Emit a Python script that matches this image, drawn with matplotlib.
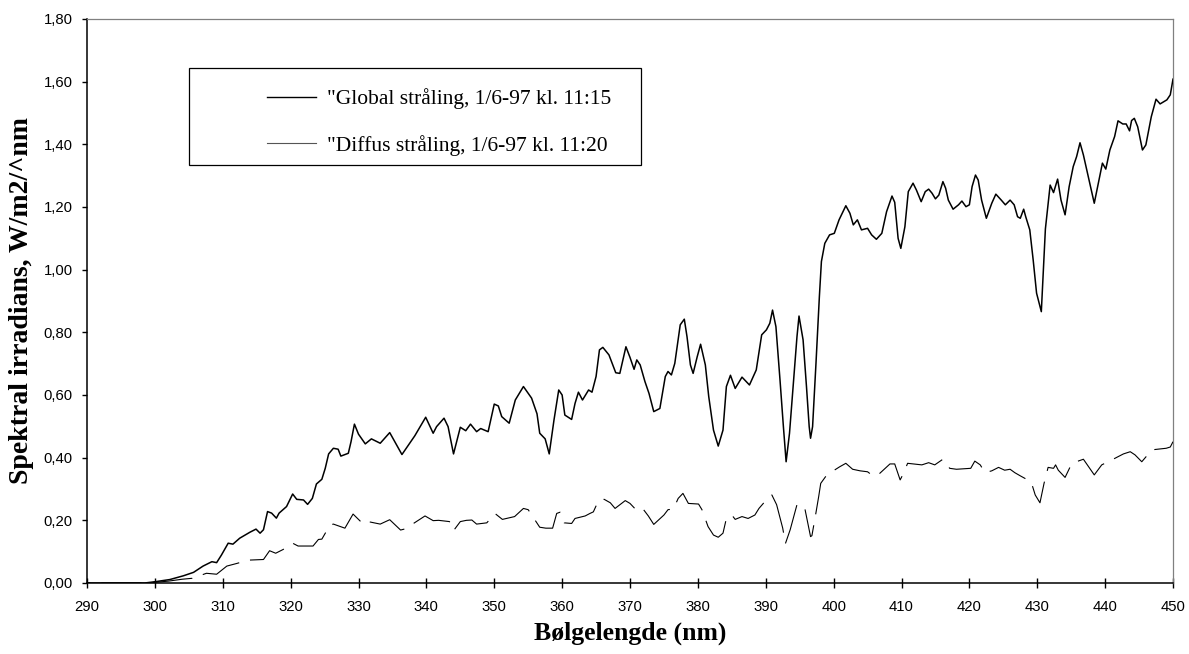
import matplotlib
matplotlib.use("Agg")
import matplotlib.pyplot as plt
from matplotlib.lines import Line2D
from matplotlib.patches import Rectangle

# Global irradiance spectrum (nm, W/m2/nm)
global_nm = [290, 295, 298.5, 300.0, 302.2, 304.2, 305.7, 307.1, 308.4, 309.1,
             309.8, 310.8, 311.5, 312.5, 314.0, 314.9, 315.5, 316.0, 316.6, 317.2,
             317.9, 318.3, 319.4, 320.3, 320.9, 321.9, 322.5, 323.2, 323.8, 324.6,
             325.1, 325.6, 326.3, 327.0, 327.4, 328.5, 328.9, 329.4, 330.0, 331.0,
             331.9, 333.2, 334.6, 336.4, 338.3, 339.9, 341.0, 341.5, 342.6, 343.2,
             344.0, 345.0, 345.8, 346.5, 347.4, 348.0, 349.1, 350.0, 350.6, 351.1,
             352.2, 353.1, 354.3, 355.5, 356.3, 356.7, 357.5, 358.1, 358.8, 359.5,
             360.0, 360.4, 361.4, 361.9, 362.4, 363.0, 363.9, 364.4, 365.0, 365.5,
             366.0, 366.9, 367.9, 368.5, 369.4, 370.0, 370.6, 371.0, 371.5, 372.2,
             372.8, 373.5, 374.4, 375.2, 375.6, 376.1, 376.6, 377.4, 378.0, 378.4,
             378.9, 379.3, 379.9, 380.4, 381.1, 381.6, 382.3, 383.0, 383.7, 384.2,
             384.8, 385.5, 386.5, 387.6, 388.6, 389.4, 390.1, 390.6, 391.0, 391.5,
             392.1, 392.6, 393.0, 393.5, 394.1, 394.6, 394.9, 395.5, 396.0, 396.4,
             396.6, 396.9, 397.4, 397.9, 398.2, 398.7, 399.4, 400.1, 400.8, 401.8,
             402.4, 402.9, 403.5, 404.1, 405.0, 405.6, 406.3, 407.1, 407.8, 408.6,
             409.0, 409.5, 409.9, 410.5, 411.0, 411.7, 412.2, 412.9, 413.5, 414.0,
             414.5, 415.0, 415.5, 416.1, 416.5, 416.9, 417.6, 418.4, 418.9, 419.5,
             420.0, 420.4, 420.9, 421.3, 421.8, 422.5, 423.3, 423.9, 424.7, 425.3,
             426.0, 426.6, 427.1, 427.5, 428.0, 428.3, 428.9, 429.4, 429.9, 430.6,
             431.2, 431.9, 432.4, 433.0, 433.5, 434.1, 434.7, 435.3, 435.8, 436.3,
             436.8, 437.3, 437.8, 438.4, 438.9, 439.6, 440.1, 440.7, 441.4, 441.9,
             442.6, 443.1, 443.6, 443.9, 444.3, 444.8, 445.5, 446.0, 446.8, 447.5,
             448.1, 449.1, 449.6, 450.0]
global_val = [0.0, 0.0, 0.0, 0.004, 0.011, 0.023, 0.034, 0.054, 0.068, 0.065,
              0.089, 0.127, 0.124, 0.143, 0.162, 0.172, 0.159, 0.170, 0.228, 0.223,
              0.207, 0.223, 0.244, 0.284, 0.267, 0.265, 0.251, 0.270, 0.316, 0.331,
              0.366, 0.412, 0.430, 0.427, 0.405, 0.414, 0.451, 0.507, 0.475, 0.444,
              0.460, 0.446, 0.480, 0.410, 0.470, 0.529, 0.478, 0.499, 0.526, 0.499,
              0.412, 0.497, 0.486, 0.507, 0.483, 0.493, 0.483, 0.571, 0.565, 0.531,
              0.510, 0.584, 0.627, 0.590, 0.540, 0.478, 0.460, 0.412, 0.520, 0.616,
              0.600, 0.536, 0.522, 0.573, 0.609, 0.584, 0.616, 0.609, 0.659, 0.744,
              0.752, 0.728, 0.671, 0.669, 0.754, 0.720, 0.682, 0.712, 0.696, 0.643,
              0.605, 0.547, 0.557, 0.659, 0.675, 0.664, 0.701, 0.824, 0.842, 0.786,
              0.696, 0.669, 0.722, 0.762, 0.696, 0.595, 0.488, 0.437, 0.488, 0.627,
              0.663, 0.621, 0.657, 0.632, 0.680, 0.792, 0.808, 0.829, 0.871, 0.818,
              0.648, 0.499, 0.387, 0.478, 0.648, 0.786, 0.852, 0.776, 0.627, 0.499,
              0.462, 0.499, 0.701, 0.914, 1.026, 1.084, 1.111, 1.116, 1.159, 1.204,
              1.180, 1.143, 1.159, 1.127, 1.132, 1.111, 1.097, 1.116, 1.185, 1.235,
              1.215, 1.100, 1.068, 1.137, 1.249, 1.276, 1.254, 1.217, 1.249, 1.257,
              1.244, 1.226, 1.238, 1.281, 1.260, 1.222, 1.193, 1.207, 1.219, 1.201,
              1.207, 1.265, 1.302, 1.286, 1.222, 1.164, 1.212, 1.241, 1.222, 1.207,
              1.222, 1.207, 1.169, 1.164, 1.193, 1.169, 1.127, 1.031, 0.925, 0.866,
              1.130, 1.270, 1.246, 1.289, 1.222, 1.175, 1.265, 1.329, 1.361, 1.405,
              1.366, 1.318, 1.270, 1.212, 1.265, 1.340, 1.321, 1.382, 1.425, 1.475,
              1.465, 1.465, 1.443, 1.476, 1.483, 1.456, 1.382, 1.398, 1.488, 1.544,
              1.529, 1.542, 1.558, 1.608]

# Diffuse irradiance spectrum (nm, W/m2/nm)
diffus_nm = [290, 298, 300.0, 302.0, 304.0, 305.5, 307.6, 309.1, 310.6, 312.0,
             313.8, 316.0, 316.9, 317.8, 318.9, 320.3, 321.1, 323.3, 324.1, 324.6,
             325.8, 326.3, 328.0, 329.2, 330.7, 331.4, 333.2, 334.6, 336.2, 337.1,
             338.1, 339.8, 341.0, 341.8, 343.4, 344.0, 345.0, 345.9, 346.7, 347.4,
             348.9, 350.1, 351.2, 353.0, 354.3, 355.0, 356.0, 356.7, 357.6, 358.6,
             359.2, 359.7, 360.3, 361.4, 361.9, 363.4, 364.1, 364.6, 365.4, 366.2,
             367.1, 367.8, 369.3, 370.0, 370.7, 371.2, 372.0, 372.7, 373.5, 375.0,
             375.6, 376.4, 377.1, 377.8, 378.6, 380.1, 380.6, 381.5, 382.3, 383.0,
             383.7, 384.2, 385.0, 385.5, 386.5, 387.4, 388.4, 389.0, 390.0, 390.9,
             391.6, 392.5, 392.9, 393.6, 394.6, 395.7, 396.3, 396.6, 396.8, 397.3,
             397.8, 398.1, 399.0, 400.9, 401.8, 402.8, 403.9, 405.0, 405.6, 406.4,
             408.3, 409.0, 409.8, 410.3, 410.9, 413.0, 414.0, 414.9, 416.1, 417.1,
             418.1, 420.2, 420.8, 421.6, 422.3, 423.3, 424.3, 425.2, 426.0, 426.7,
             427.5, 429.1, 429.7, 430.4, 431.0, 431.6, 432.4, 432.7, 433.1, 434.1,
             435.1, 436.8, 438.4, 439.5, 441.0, 442.7, 443.7, 444.4, 445.4, 446.9,
             449.0, 449.6, 450.0]
diffus_val = [0.0, 0.0, 0.002, 0.006, 0.012, 0.015, 0.031, 0.028, 0.054, 0.062,
              0.073, 0.075, 0.103, 0.095, 0.107, 0.127, 0.118, 0.118, 0.139, 0.140,
              0.185, 0.188, 0.175, 0.220, 0.188, 0.196, 0.188, 0.202, 0.169, 0.174,
              0.190, 0.214, 0.199, 0.200, 0.196, 0.167, 0.196, 0.200, 0.201, 0.188,
              0.192, 0.222, 0.203, 0.212, 0.238, 0.234, 0.201, 0.178, 0.175, 0.175,
              0.222, 0.226, 0.192, 0.190, 0.206, 0.214, 0.222, 0.227, 0.265, 0.267,
              0.256, 0.238, 0.263, 0.254, 0.238, 0.245, 0.234, 0.214, 0.187, 0.217,
              0.234, 0.236, 0.270, 0.286, 0.254, 0.252, 0.234, 0.180, 0.153, 0.146,
              0.159, 0.206, 0.217, 0.203, 0.212, 0.206, 0.217, 0.238, 0.263, 0.281,
              0.250, 0.175, 0.126, 0.170, 0.250, 0.244, 0.180, 0.148, 0.151, 0.212,
              0.276, 0.318, 0.345, 0.371, 0.382, 0.363, 0.358, 0.355, 0.345, 0.342,
              0.380, 0.380, 0.329, 0.350, 0.382, 0.377, 0.384, 0.377, 0.395, 0.366,
              0.363, 0.366, 0.389, 0.377, 0.352, 0.358, 0.369, 0.360, 0.363, 0.352,
              0.342, 0.323, 0.281, 0.256, 0.318, 0.369, 0.366, 0.377, 0.360, 0.337,
              0.382, 0.395, 0.345, 0.377, 0.393, 0.412, 0.419, 0.409, 0.387, 0.425,
              0.430, 0.434, 0.451]

x_ticks = list(range(290, 451, 10))
y_ticks = [0.0, 0.2, 0.4, 0.6, 0.8, 1.0, 1.2, 1.4, 1.6, 1.8]
y_tick_labels = ["0,00", "0,20", "0,40", "0,60", "0,80",
                 "1,00", "1,20", "1,40", "1,60", "1,80"]
series_labels = ['"Global stråling, 1/6-97 kl. 11:15',
                 '"Diffus stråling, 1/6-97 kl. 11:20']

W, H = 1189, 654
fig = plt.figure(figsize=(W / 100, H / 100), dpi=100)
fig.patch.set_facecolor("white")

# plot area in pixel terms
left, right, top, bottom = 87, 1173, 19, 583
ax = fig.add_axes([left / W, 1 - bottom / H, (right - left) / W, (bottom - top) / H])

ax.plot(global_nm, global_val, color="black", lw=1.1, solid_joinstyle="round", zorder=3)
ax.plot(diffus_nm, diffus_val, color="black", lw=0.8,
        linestyle=(33, (36, 10)), zorder=3)

ax.set_xlim(290, 450)
ax.set_ylim(0, 1.8)
ax.set_xticks(x_ticks)
ax.set_xticklabels([str(t) for t in x_ticks], family="Liberation Sans", fontsize=10.7)
ax.set_yticks(y_ticks)
ax.set_yticklabels(y_tick_labels, family="Liberation Sans", fontsize=10.7)

ax.tick_params(axis="x", direction="inout", length=7.2, width=1.0, pad=8.5)
ax.tick_params(axis="y", direction="out", length=3.8, width=1.0, pad=6.3)

for side in ("left", "bottom"):
    ax.spines[side].set_color("black")
    ax.spines[side].set_linewidth(1.1)
for side in ("top", "right"):
    ax.spines[side].set_color("#808080")
    ax.spines[side].set_linewidth(0.9)

ax.set_xlabel("Bølgelengde (nm)", family="Liberation Serif", fontweight="bold", fontsize=18.5)
ax.set_ylabel("Spektral irradians, W/m2/^nm", family="Liberation Serif",
              fontweight="bold", fontsize=20)
ax.xaxis.set_label_coords(0.5, -(622 - bottom) / (bottom - top))
ax.yaxis.set_label_coords(-(87 - 34) / (right - left), 0.5)

# legend frame, then the entries inside it
box = Rectangle((189 / W, 1 - 165 / H), (641 - 189) / W, (165 - 68) / H,
                transform=fig.transFigure, facecolor="white", edgecolor="black",
                lw=0.9, zorder=4, clip_on=False)
ax.add_patch(box)

handles = [Line2D([], [], color="black", lw=1.0),
           Line2D([], [], color="#555555", lw=0.8)]
leg = ax.legend(handles, series_labels, loc="center left",
                bbox_to_anchor=(256 / W, 1 - 122 / H), bbox_transform=fig.transFigure,
                frameon=False, borderpad=0, handlelength=2.3, handletextpad=0.5,
                labelspacing=1.2, prop={"family": "Liberation Serif", "size": 15.5})
leg.set_zorder(5)

fig.savefig("out.png", dpi=100)
